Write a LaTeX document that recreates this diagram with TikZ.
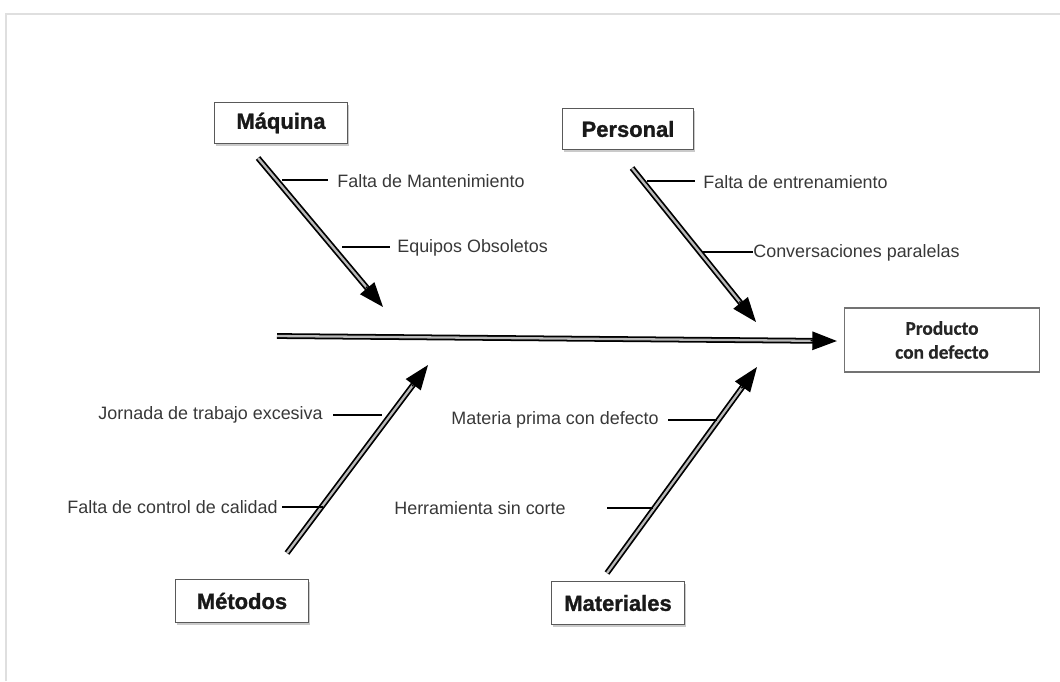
\documentclass[tikz,border=0pt]{standalone}
\usepackage{fontspec}
\setmainfont{Liberation Sans}
\newfontfamily\calib[FakeBold=0.6]{Carlito Bold}
\newfontfamily\heavyfont[FakeBold=1.2]{Liberation Sans Bold}
\usetikzlibrary{arrows.meta,shadows,calc}
\begin{document}
\begin{tikzpicture}[x=0.02cm,y=-0.02cm,
  cat/.style={draw=black!65, line width=0.8pt, fill=white, inner sep=0pt,
    minimum width=2.66cm, minimum height=0.82cm,
    font=\heavyfont\fontsize{12.5}{14}\selectfont, text=black!90,
    drop shadow={shadow xshift=0.8pt, shadow yshift=-1.2pt, fill=black!35, opacity=0.6}},
  shaft/.style={draw=black, double=gray!55, double distance=1.3pt, line width=1pt, shorten >=11pt},
  tipline/.style={draw=black, line width=0.8pt, -{Triangle[length=14pt,width=10.5pt]}},
  rib/.style={line width=1.3pt},
  lbl/.style={font=\fontsize{10.2}{12}\selectfont, inner sep=0pt, text=black!78}]
\useasboundingbox (0,0) rectangle (1060,681);
% frame
\draw[gray!25, line width=1.6pt] (6,681) -- (6,14) -- (1060,14);

% category boxes
\node[cat] (maq) at (281,123) {Máquina};
\node[cat, minimum width=2.62cm] (per) at (628,129) {Personal};
\node[cat, minimum height=0.86cm] (met) at (242,601) {Métodos};
\node[cat, minimum height=0.86cm] (mat) at (618,603) {Materiales};
\node[draw=black!55, line width=0.7pt, minimum width=3.9cm, minimum height=1.28cm,
      align=center, font=\calib\fontsize{11}{13.6}\selectfont, text=black!85]
      (prod) at (942,340) {Producto\\con defecto};

% bone coordinates
\coordinate (maqS) at (258,158);
\coordinate (maqE) at (383,307);
\coordinate (perS) at (632,168);
\coordinate (perE) at (756,322);
\coordinate (metS) at (287,553);
\coordinate (metE) at (428,365);
\coordinate (matS) at (607,573);
\coordinate (matE) at (757,367);
\coordinate (spS) at (277,336);
\coordinate (spE) at ($(prod.west)+(-7,1)$);

% spine
\draw[shaft] (spS) -- (spE);
\draw[tipline] ($(spE)!15pt!(spS)$) -- (spE);

% bones
\foreach \s/\e in {maqS/maqE, perS/perE, metS/metE, matS/matE}{
  \draw[shaft] (\s) -- (\e);
  \draw[tipline] ($(\e)!15pt!(\s)$) -- (\e);
}

% ribs and labels: Maquina
\coordinate (m1a) at (282,180); \coordinate (m1b) at (328,180);
\draw[rib] (m1a) -- (m1b);
\node[lbl, anchor=west] (m1) at (337,181) {Falta de Mantenimiento};
\coordinate (m2a) at (342,247); \coordinate (m2b) at (390,247);
\draw[rib] (m2a) -- (m2b);
\node[lbl, anchor=west] (m2) at (397,248) {Equipos Obsoletos};

% Personal
\coordinate (p1a) at (647,181); \coordinate (p1b) at (695,181);
\draw[rib] (p1a) -- (p1b);
\node[lbl, anchor=west] (p1) at (703,182) {Falta de entrenamiento};
\coordinate (p2a) at (703,252); \coordinate (p2b) at (753,252);
\draw[rib] (p2a) -- (p2b);
\node[lbl, anchor=west] (p2) at (753,253) {Conversaciones paralelas};

% Metodos
\coordinate (t1a) at (333,415); \coordinate (t1b) at (382,415);
\draw[rib] (t1a) -- (t1b);
\node[lbl, anchor=east] (t1) at (323,415) {Jornada de trabajo excesiva};
\coordinate (t2a) at (282,507); \coordinate (t2b) at (323,507);
\draw[rib] (t2a) -- (t2b);
\node[lbl, anchor=east] (t2) at (278,507) {Falta de control de calidad};

% Materiales
\coordinate (r1a) at (668,420); \coordinate (r1b) at (717,420);
\draw[rib] (r1a) -- (r1b);
\node[lbl, anchor=east] (r1) at (659,420) {Materia prima con defecto};
\coordinate (r2a) at (607,508); \coordinate (r2b) at (653,508);
\draw[rib] (r2a) -- (r2b);
\node[lbl, anchor=east] (r2) at (566,508) {Herramienta sin corte};
\end{tikzpicture}
\end{document}
